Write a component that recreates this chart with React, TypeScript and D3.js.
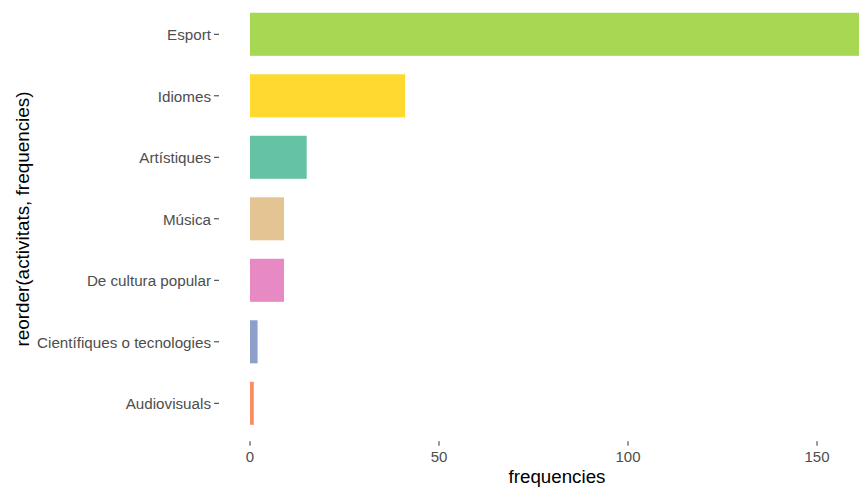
import React from "react";
import * as d3 from "d3";

const categories = [
  "Esport",
  "Idiomes",
  "Artístiques",
  "Música",
  "De cultura popular",
  "Científiques o tecnologies",
  "Audiovisuals",
];
const frequencies = [164, 41, 15, 9, 9, 2, 1];
const colors = ["#A6D854", "#FFD92F", "#66C2A5", "#E5C494", "#E78AC3", "#8DA0CB", "#FC8D62"];
const xTicks = [0, 50, 100, 150];
const xTitle = "frequencies";
const yTitle = "reorder(activitats, frequencies)";

const W = 859;
const H = 489;

export default function App() {
  const x = d3.scaleLinear().domain([0, 150]).range([250, 817]);
  const y = d3.scalePoint<string>().domain(categories).range([-2.6, 440.2]).padding(0.6);
  const step = y.step();
  const barH = step * 0.7;
  const panelLeft = 219;
  const panelBottom = 440.2;

  return (
    <svg
      width={W}
      height={H}
      style={{ position: "absolute", left: 0, top: 0, background: "#fff" }}
      fontFamily="'Liberation Sans', Arial, sans-serif"
    >
      <defs>
        <clipPath id="panel">
          <rect x={panelLeft} y={-10} width={W} height={panelBottom + 10} />
        </clipPath>
      </defs>
      <g clipPath="url(#panel)">
        {categories.map((c, i) => (
          <rect
            key={c}
            x={x(0)}
            y={(y(c) as number) - barH / 2}
            width={x(frequencies[i]) - x(0)}
            height={barH}
            fill={colors[i]}
          />
        ))}
      </g>
      {categories.map((c) => (
        <g key={c}>
          <line x1={panelLeft - 5} x2={panelLeft} y1={y(c)} y2={y(c)} stroke="#333" strokeWidth={1} />
          <text
            x={panelLeft - 8}
            y={(y(c) as number) + 6}
            textAnchor="end"
            fontSize={15.2}
            fill="#4D4D4D"
          >
            {c}
          </text>
        </g>
      ))}
      {xTicks.map((t) => (
        <g key={t}>
          <line x1={x(t)} x2={x(t)} y1={panelBottom + 1} y2={panelBottom + 5.5} stroke="#333" strokeWidth={1} />
          <text x={x(t)} y={462} textAnchor="middle" fontSize={15} fill="#4D4D4D">
            {t}
          </text>
        </g>
      ))}
      <text x={557} y={483} textAnchor="middle" fontSize={18.75} fill="#000">
        {xTitle}
      </text>
      <text
        transform={`translate(29, 219) rotate(-90)`}
        textAnchor="middle"
        fontSize={18.9}
        fill="#000"
      >
        {yTitle}
      </text>
    </svg>
  );
}
